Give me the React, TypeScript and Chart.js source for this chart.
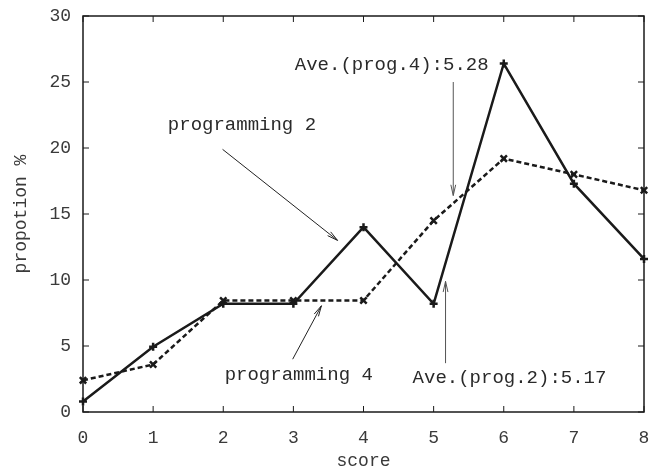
import React, { useEffect, useRef } from "react";
import { Chart, registerables } from "chart.js";

Chart.register(...registerables);

const scores = [0, 1, 2, 3, 4, 5, 6, 7, 8];
const prog2 = [0.8, 4.95, 8.2, 8.2, 14.0, 8.2, 26.4, 17.3, 11.6];
const prog4 = [2.4, 3.6, 8.45, 8.45, 8.45, 14.5, 19.2, 18.0, 16.8];
const yTicks = [0, 5, 10, 15, 20, 25, 30];
const xTicks = [0, 1, 2, 3, 4, 5, 6, 7, 8];

const avgProg2 = 5.17;
const avgProg4 = 5.28;

// annotations in data coordinates
const labelTexts = ["Ave.(prog.4):5.28", "programming 2", "programming 4", "Ave.(prog.2):5.17"];
const labelAnchors = [
  [3.02, 26.3],
  [1.21, 21.75],
  [2.02, 2.8],
  [4.7, 2.6],
];
const arrows = [
  [avgProg4, 25.0, avgProg4, 16.4],
  [1.99, 19.9, 3.63, 13.0],
  [2.99, 4.0, 3.4, 8.05],
  [avgProg2, 3.7, avgProg2, 9.9],
];

const FONT = "'Liberation Mono', 'DejaVu Sans Mono', monospace";
const INK = "#1a1a1a";
const TEXT = "#3a3a3a";

const framePlugin = {
  id: "gnuplotFrame",
  afterDatasetsDraw(chart: any) {
    const { ctx, chartArea: a, scales } = chart;
    const xs = scales.x;
    const ys = scales.y;
    ctx.save();
    ctx.strokeStyle = INK;
    ctx.lineWidth = 1.5;
    ctx.strokeRect(a.left, a.top, a.right - a.left, a.bottom - a.top);
    const tl = 6;
    ctx.beginPath();
    xTicks.forEach((v) => {
      const px = xs.getPixelForValue(v);
      ctx.moveTo(px, a.bottom);
      ctx.lineTo(px, a.bottom - tl);
      ctx.moveTo(px, a.top);
      ctx.lineTo(px, a.top + tl);
    });
    yTicks.forEach((v) => {
      const py = ys.getPixelForValue(v);
      ctx.moveTo(a.left, py);
      ctx.lineTo(a.left + tl, py);
      ctx.moveTo(a.right, py);
      ctx.lineTo(a.right - tl, py);
    });
    ctx.lineWidth = 1;
    ctx.stroke();

    // annotations
    ctx.fillStyle = "#2a2a2a";
    ctx.font = `19px ${FONT}`;
    ctx.textAlign = "left";
    ctx.textBaseline = "middle";
    labelTexts.forEach((t, i) => {
      const [x, y] = labelAnchors[i];
      ctx.fillText(t, xs.getPixelForValue(x), ys.getPixelForValue(y));
    });
    arrows.forEach(([x1, y1, x2, y2], i) => {
      const p1x = xs.getPixelForValue(x1);
      const p1y = ys.getPixelForValue(y1);
      const p2x = xs.getPixelForValue(x2);
      const p2y = ys.getPixelForValue(y2);
      const ang = Math.atan2(p2y - p1y, p2x - p1x);
      const hl = 11;
      const ha = 0.22;
      ctx.strokeStyle = i === 0 || i === 3 ? "#555" : "#222";
      ctx.lineWidth = 1;
      ctx.beginPath();
      ctx.moveTo(p1x, p1y);
      ctx.lineTo(p2x, p2y);
      ctx.moveTo(p2x - hl * Math.cos(ang - ha), p2y - hl * Math.sin(ang - ha));
      ctx.lineTo(p2x, p2y);
      ctx.lineTo(p2x - hl * Math.cos(ang + ha), p2y - hl * Math.sin(ang + ha));
      ctx.stroke();
    });
    ctx.restore();
  },
};

export default function App() {
  const ref = useRef<HTMLCanvasElement | null>(null);
  useEffect(() => {
    if (!ref.current) return;
    const chart = new Chart(ref.current, {
      type: "line",
      data: {
        datasets: [
          {
            label: "programming 2",
            data: scores.map((s, i) => ({ x: s, y: prog2[i] })),
            borderColor: INK,
            backgroundColor: INK,
            borderWidth: 2.5,
            pointStyle: "cross",
            pointRadius: 4,
            pointBorderWidth: 2.5,
            pointBorderColor: INK,
            tension: 0,
            fill: false,
            clip: false,
          },
          {
            label: "programming 4",
            data: scores.map((s, i) => ({ x: s, y: prog4[i] })),
            borderColor: INK,
            backgroundColor: INK,
            borderWidth: 2.5,
            borderDash: [5, 3],
            pointStyle: "crossRot",
            pointRadius: 4.5,
            pointBorderWidth: 2.5,
            pointBorderColor: INK,
            tension: 0,
            fill: false,
            clip: false,
          },
        ],
      },
      options: {
        responsive: false,
        animation: false,
        layout: { padding: { top: 16, right: 6, left: 0, bottom: 0 } },
        plugins: { legend: { display: false }, tooltip: { enabled: false } },
        scales: {
          x: {
            type: "linear",
            min: 0,
            max: 8,
            afterFit: (s: any) => {
              s.height = 56;
              s.paddingLeft = 0;
              s.paddingRight = 0;
            },
            afterBuildTicks: (s: any) => {
              s.ticks = xTicks.map((v) => ({ value: v }));
            },
            grid: { display: false, drawTicks: false },
            border: { display: false },
            ticks: {
              color: TEXT,
              font: { family: FONT, size: 18 },
              padding: 15,
              maxRotation: 0,
            },
            title: {
              display: true,
              text: "score",
              color: TEXT,
              font: { family: FONT, size: 18, lineHeight: 0.8 },
              padding: { top: 0, bottom: 0 },
            },
          },
          y: {
            type: "linear",
            min: 0,
            max: 30,
            afterFit: (s: any) => {
              s.width = 83;
              s.paddingTop = 0;
              s.paddingBottom = 0;
            },
            afterBuildTicks: (s: any) => {
              s.ticks = yTicks.map((v) => ({ value: v }));
            },
            grid: { display: false, drawTicks: false },
            border: { display: false },
            ticks: {
              color: TEXT,
              font: { family: FONT, size: 18 },
              padding: 12,
            },
            title: {
              display: true,
              text: "propotion %",
              color: TEXT,
              font: { family: FONT, size: 18 },
              padding: { top: 10, bottom: 0 },
            },
          },
        },
      },
      plugins: [framePlugin],
    } as any);
    return () => chart.destroy();
  }, []);
  return (
    <div style={{ position: "absolute", left: 0, top: 0, width: 651, height: 468, background: "#fff" }}>
      <canvas ref={ref} width={651} height={468} />
    </div>
  );
}
